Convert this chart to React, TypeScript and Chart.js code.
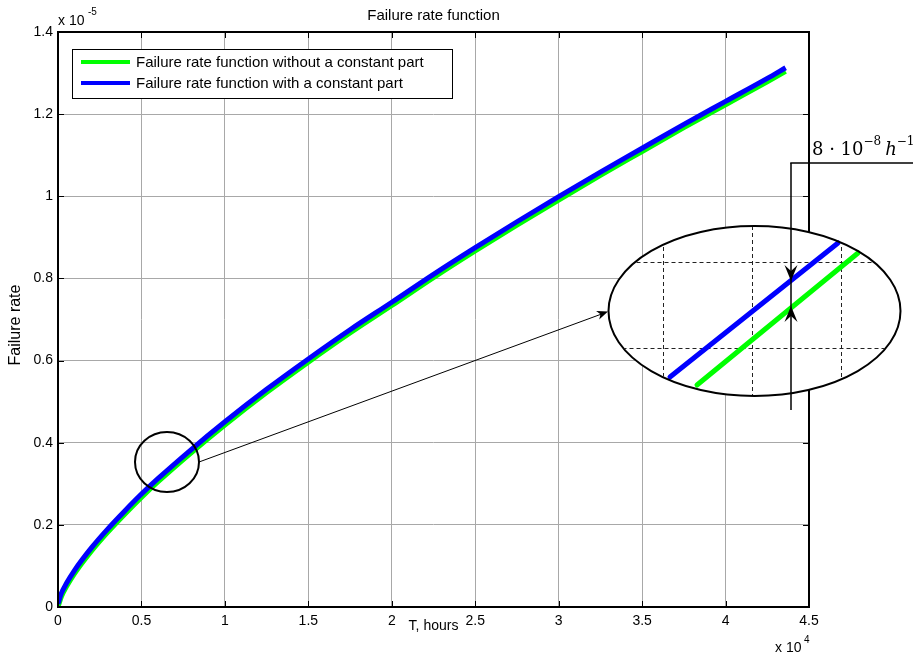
import React, { useEffect, useRef } from "react";
import { Chart, registerables } from "chart.js";

Chart.register(...registerables);

// T, hours (x 10^4)
const hours = [0, 0.02, 0.05, 0.1, 0.2, 0.3, 0.4, 0.5, 0.6, 0.8, 1, 1.25, 1.5, 1.75, 2, 2.25, 2.5, 2.75, 3, 3.25, 3.5, 3.75, 4, 4.25, 4.36];
// Failure rate (x 10^-5)
const rateNoConst = [0, 0.025, 0.049, 0.082, 0.136, 0.183, 0.226, 0.267, 0.305, 0.376, 0.443, 0.522, 0.596, 0.667, 0.734, 0.802, 0.867, 0.93, 0.991, 1.051, 1.109, 1.167, 1.223, 1.279, 1.304];
const rateWithConst = [0.008, 0.033, 0.057, 0.09, 0.144, 0.191, 0.234, 0.275, 0.313, 0.384, 0.451, 0.53, 0.604, 0.675, 0.742, 0.81, 0.875, 0.938, 0.999, 1.059, 1.117, 1.175, 1.231, 1.287, 1.313];

const xTicks = [0, 0.5, 1, 1.5, 2, 2.5, 3, 3.5, 4, 4.5];
const yTicks = [0, 0.2, 0.4, 0.6, 0.8, 1, 1.2, 1.4];

const labelNoConst = "Failure rate function without a constant part";
const labelConst = "Failure rate function with a constant part";
const titleText = "Failure rate function";
const xLabel = "T, hours";
const yLabel = "Failure rate";

const FONT = "'Liberation Sans', Arial, sans-serif";
const GREEN = "#00ff00";
const BLUE = "#0000ff";

function arrowHead(ctx: CanvasRenderingContext2D, tx: number, ty: number, ang: number, len: number, hw: number, notch: number) {
  const c = Math.cos(ang), s = Math.sin(ang);
  const bx = tx - c * len, by = ty - s * len;
  const nx = tx - c * (len - notch), ny = ty - s * (len - notch);
  ctx.beginPath();
  ctx.moveTo(tx, ty);
  ctx.lineTo(bx - s * hw, by + c * hw);
  ctx.lineTo(nx, ny);
  ctx.lineTo(bx + s * hw, by - c * hw);
  ctx.closePath();
  ctx.fill();
}

function seg(ctx: CanvasRenderingContext2D, x1: number, y1: number, x2: number, y2: number) {
  ctx.beginPath();
  ctx.moveTo(x1, y1);
  ctx.lineTo(x2, y2);
  ctx.stroke();
}

const overlay = {
  id: "overlay",
  afterDraw(chart: any) {
    const ctx: CanvasRenderingContext2D = chart.ctx;
    const { left, right, top, bottom } = chart.chartArea;
    const xs = chart.scales.x;
    const ys = chart.scales.y;
    ctx.save();

    // frame
    ctx.strokeStyle = "#000";
    ctx.lineWidth = 2;
    ctx.strokeRect(left, top, right - left, bottom - top);
    // inner ticks
    ctx.lineWidth = 1;
    xTicks.forEach((v) => {
      const px = Math.round(xs.getPixelForValue(v)) + 0.5;
      seg(ctx, px, bottom, px, bottom - 6);
      seg(ctx, px, top, px, top + 6);
    });
    yTicks.forEach((v) => {
      const py = Math.round(ys.getPixelForValue(v)) + 0.5;
      seg(ctx, left, py, left + 6, py);
      seg(ctx, right, py, right - 6, py);
    });

    // texts
    ctx.fillStyle = "#000";
    ctx.textAlign = "center";
    ctx.textBaseline = "middle";
    ctx.font = `15px ${FONT}`;
    ctx.fillText(titleText, (left + right) / 2, 16);
    ctx.font = `14px ${FONT}`;
    ctx.fillText(xLabel, (left + right) / 2, 626);
    ctx.save();
    ctx.translate(16, 325);
    ctx.rotate(-Math.PI / 2);
    ctx.font = `16px ${FONT}`;
    ctx.fillText(yLabel, 0, 0);
    ctx.restore();

    // exponents
    ctx.textAlign = "left";
    ctx.font = `14px ${FONT}`;
    ctx.fillText("x 10", left, 21);
    ctx.font = `10px ${FONT}`;
    ctx.fillText("-5", left + 30, 12);
    ctx.font = `14px ${FONT}`;
    ctx.fillText("x 10", right - 34, 648);
    ctx.font = `10px ${FONT}`;
    ctx.fillText("4", right - 5, 640);

    // legend
    const lx = left + 14, ly = top + 17;
    ctx.fillStyle = "#fff";
    ctx.fillRect(lx, ly, 380, 49);
    ctx.strokeStyle = "#000";
    ctx.lineWidth = 1;
    ctx.strokeRect(lx + 0.5, ly + 0.5, 380, 49);
    ctx.lineWidth = 4;
    ctx.strokeStyle = GREEN;
    seg(ctx, lx + 9, ly + 13, lx + 58, ly + 13);
    ctx.strokeStyle = BLUE;
    seg(ctx, lx + 9, ly + 34, lx + 58, ly + 34);
    ctx.fillStyle = "#000";
    ctx.font = `15px ${FONT}`;
    ctx.textAlign = "left";
    ctx.textBaseline = "middle";
    ctx.fillText(labelNoConst, lx + 64, ly + 14);
    ctx.fillText(labelConst, lx + 64, ly + 35);

    // small circle around the curve
    ctx.strokeStyle = "#000";
    ctx.lineWidth = 2;
    ctx.beginPath();
    ctx.ellipse(167, 462, 32, 30, 0, 0, Math.PI * 2);
    ctx.stroke();

    // line + arrow to zoom ellipse
    ctx.lineWidth = 1;
    seg(ctx, 199, 462, 603, 313.5);
    ctx.fillStyle = "#000";
    arrowHead(ctx, 608, 311.5, Math.atan2(311.5 - 462, 608 - 199), 11, 4.5, 3);

    // zoom ellipse
    const ecx = 754.5, ecy = 311, erx = 146, ery = 85;
    ctx.fillStyle = "#fff";
    ctx.beginPath();
    ctx.ellipse(ecx, ecy, erx, ery, 0, 0, Math.PI * 2);
    ctx.fill();

    ctx.save();
    ctx.beginPath();
    ctx.ellipse(ecx, ecy, erx - 1, ery - 1, 0, 0, Math.PI * 2);
    ctx.clip();
    ctx.strokeStyle = "#222";
    ctx.lineWidth = 1;
    ctx.setLineDash([4, 3]);
    [663.5, 752.5, 841.5].forEach((x) => seg(ctx, x, ecy - ery, x, ecy + ery));
    [262.5, 348.5].forEach((y) => seg(ctx, ecx - erx, y, ecx + erx, y));
    ctx.setLineDash([]);
    ctx.restore();

    ctx.lineCap = "round";
    ctx.lineWidth = 5;
    ctx.strokeStyle = GREEN;
    seg(ctx, 697, 385, 858, 253);
    ctx.strokeStyle = BLUE;
    seg(ctx, 670, 377, 838, 243);
    ctx.lineCap = "butt";

    ctx.strokeStyle = "#000";
    ctx.lineWidth = 2;
    ctx.beginPath();
    ctx.ellipse(ecx, ecy, erx, ery, 0, 0, Math.PI * 2);
    ctx.stroke();

    // 8e-8 annotation
    ctx.lineWidth = 1.5;
    seg(ctx, 791, 163, 791, 410);
    seg(ctx, 790.25, 163, 913, 163);
    ctx.fillStyle = "#000";
    arrowHead(ctx, 791, 281, Math.PI / 2, 16, 6.5, 6);
    arrowHead(ctx, 791, 306, -Math.PI / 2, 16, 6.5, 6);

    ctx.textAlign = "left";
    ctx.textBaseline = "alphabetic";
    let tx = 812;
    ctx.font = `18px 'DejaVu Serif', serif`;
    const main = "8 \u00b7 10";
    ctx.fillText(main, tx, 155);
    tx += ctx.measureText(main).width;
    ctx.font = `12px 'DejaVu Serif', serif`;
    ctx.fillText("\u22128", tx, 145);
    tx += ctx.measureText("\u22128").width + 4;
    ctx.font = `italic 18px 'DejaVu Serif', serif`;
    ctx.fillText("h", tx, 155);
    tx += ctx.measureText("h").width;
    ctx.font = `12px 'DejaVu Serif', serif`;
    ctx.fillText("\u22121", tx, 145);

    ctx.restore();
  },
};

export default function App() {
  const ref = useRef<HTMLCanvasElement>(null);
  useEffect(() => {
    const canvas = ref.current;
    if (!canvas) return;
    const fmt = (v: any) => String(Number(Number(v).toFixed(2)));
    const chart = new Chart(canvas, {
      type: "line",
      data: {
        datasets: [
          {
            label: labelConst,
            data: hours.map((h, i) => ({ x: h, y: rateWithConst[i] })),
            borderColor: BLUE,
            backgroundColor: BLUE,
            borderWidth: 5,
            pointRadius: 0,
            cubicInterpolationMode: "monotone",
            order: 0,
          },
          {
            label: labelNoConst,
            data: hours.map((h, i) => ({ x: h, y: rateNoConst[i] })),
            borderColor: GREEN,
            backgroundColor: GREEN,
            borderWidth: 5,
            pointRadius: 0,
            cubicInterpolationMode: "monotone",
            order: 1,
          },
        ],
      },
      options: {
        animation: false,
        responsive: false,
        maintainAspectRatio: false,
        layout: { padding: { top: 32, right: 113, left: 0, bottom: 0 } },
        plugins: { legend: { display: false }, tooltip: { enabled: false }, title: { display: false } },
        scales: {
          x: {
            type: "linear",
            min: 0,
            max: 4.5,
            afterBuildTicks: (s: any) => {
              s.ticks = xTicks.map((v) => ({ value: v }));
            },
            afterFit: (s: any) => {
              s.height = 49;
            },
            ticks: { color: "#000", font: { family: FONT, size: 14 }, padding: 6, maxRotation: 0, autoSkip: false, callback: fmt },
            grid: { color: "#a8a8a8", lineWidth: 1, drawTicks: false },
            border: { display: false },
          },
          y: {
            type: "linear",
            min: 0,
            max: 1.4,
            afterBuildTicks: (s: any) => {
              s.ticks = yTicks.map((v) => ({ value: v }));
            },
            afterFit: (s: any) => {
              s.width = 58;
            },
            ticks: { color: "#000", font: { family: FONT, size: 14 }, padding: 5, autoSkip: false, callback: fmt },
            grid: { color: "#a8a8a8", lineWidth: 1, drawTicks: false },
            border: { display: false },
          },
        },
      },
      plugins: [overlay],
    } as any);
    return () => chart.destroy();
  }, []);
  return (
    <div style={{ position: "absolute", left: 0, top: 0, width: 922, height: 656, background: "#fff" }}>
      <canvas ref={ref} width={922} height={656} style={{ width: 922, height: 656, display: "block" }} />
    </div>
  );
}
